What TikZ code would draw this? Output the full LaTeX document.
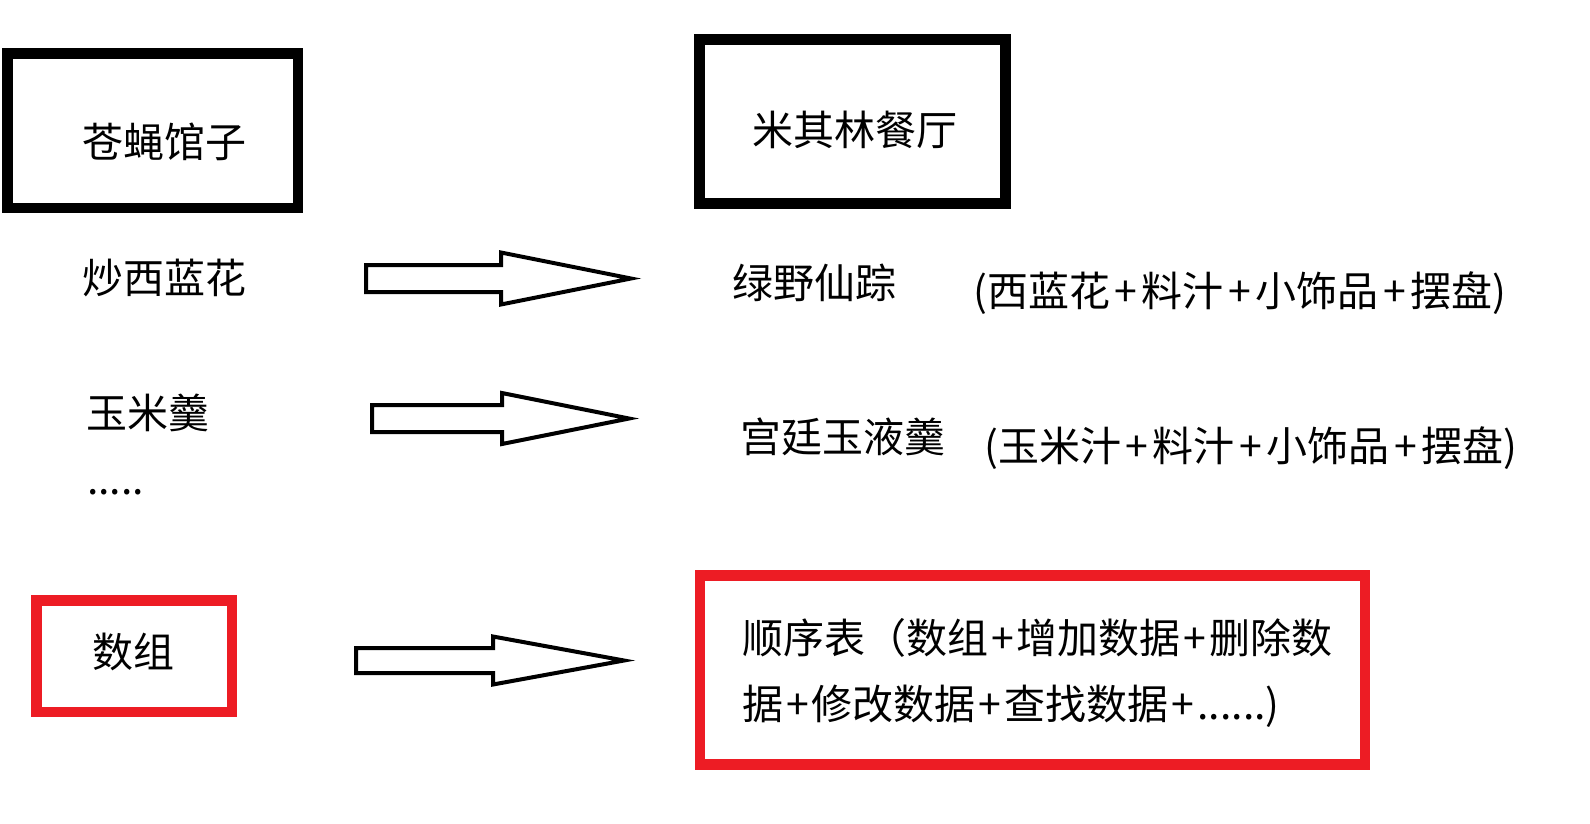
\documentclass[tikz,border=0pt]{standalone}
\usepackage{fontspec}
\setmainfont{Noto Sans CJK SC}
\newfontfamily\cjk{Noto Sans CJK SC}
\definecolor{boxred}{HTML}{ED1C24}
\newcommand\cjkbig{\cjk\fontsize{41pt}{66pt}\selectfont}
\newcommand\wplus{\hspace{4.5pt}+\hspace{4.5pt}}
\newcommand\nplus{\hspace{3pt}+\hspace{3pt}}
% x0, x of head base, x of tip, y centre, shaft half height, head half height
\newcommand\hollowarrow[6]{%
  \draw[blockarrow] (#1,#4-#5) -- (#2,#4-#5) -- (#2,#4-#6) -- (#3,#4)
    -- (#2,#4+#6) -- (#2,#4+#5) -- (#1,#4+#5) -- cycle;}
\begin{document}
\begin{tikzpicture}[x=1pt,y=-1pt,
  box/.style={draw=black, line width=10.5pt, inner sep=0pt},
  redbox/.style={draw=boxred, line width=10.5pt, inner sep=0pt},
  lbl/.style={inner sep=0pt, anchor=base west, font=\cjkbig},
  blockarrow/.style={draw=black, line width=4pt, fill=white, line join=miter}]
\useasboundingbox[fill=white] (0,0) rectangle (1590,823);

% boxes
\node[box, minimum width=290.5pt, minimum height=154.5pt] (shopbox) at (152.75,130.75) {};
\node[box, minimum width=306pt, minimum height=164pt] (michbox) at (852.5,121.5) {};
\node[redbox, minimum width=195.5pt, minimum height=111.5pt] (arrbox) at (134.25,656.25) {};
\node[redbox, minimum width=665pt, minimum height=189pt] (seqbox) at (1032.5,670) {};

% texts
\node[lbl] (shop) at (82,157.5) {苍蝇馆子};
\node[lbl] (mich) at (752,145.5) {米其林餐厅};
\node[lbl] (dish1) at (82,293.5) {炒西蓝花};
\node[lbl] (dish2) at (86,428.5) {玉米羹};
\node[lbl] (dots) at (87,494) {.....};
\node[lbl] (fine1) at (732,298.5) {绿野仙踪};
\node[lbl] (fine1d) at (973,306.5) {(西蓝花\wplus 料汁\wplus 小饰品\wplus 摆盘)};
\node[lbl] (fine2) at (740,452.5) {宫廷玉液羹};
\node[lbl] (fine2d) at (984,461.5) {(玉米汁\wplus 料汁\wplus 小饰品\wplus 摆盘)};
\node[lbl] (arr) at (92,667.5) {数组};
\node[lbl, align=left] (seq) at (742,719) {顺序表（数组\nplus 增加数据\nplus 删除数\\据\nplus 修改数据\nplus 查找数据\nplus ......)};

% hollow arrows
\hollowarrow{366}{501}{631}{278.5}{13.5}{26}
\hollowarrow{372}{502}{629}{418.5}{13.5}{25.5}
\hollowarrow{356}{493}{624}{660.5}{12.5}{24}
\end{tikzpicture}
\end{document}
